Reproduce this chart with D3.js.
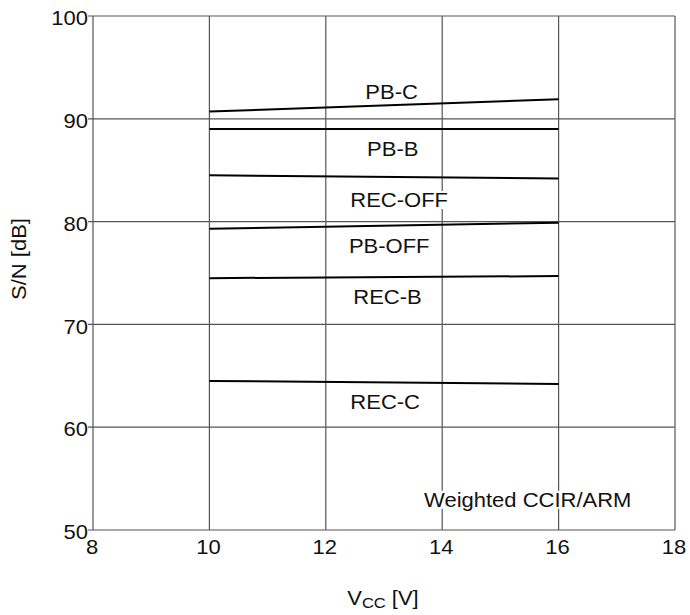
<!DOCTYPE html>
<html>
<head>
<meta charset="utf-8">
<script src="https://cdn.jsdelivr.net/npm/d3@7"></script>
<style>
  body { margin: 0; background: #fff; }
</style>
</head>
<body>
<div id="chart"></div>
<script>
// data
var vcc = [10, 16];
var seriesNames = ['PB-C', 'PB-B', 'REC-OFF', 'PB-OFF', 'REC-B', 'REC-C'];
var pbC = [90.7, 91.9];
var pbB = [89.0, 89.0];
var recOff = [84.5, 84.2];
var pbOff = [79.3, 79.9];
var recB = [74.5, 74.7];
var recC = [64.5, 64.2];
var labelVcc = [13.13, 13.15, 13.26, 13.09, 13.06, 13.02];
var labelSN = [92.6, 87.1, 82.1, 77.6, 72.7, 62.5];
var xTicks = [8, 10, 12, 14, 16, 18];
var yTicks = [50, 60, 70, 80, 90, 100];
var note = 'Weighted CCIR/ARM';

var attrs = {
  svgWidth: 690,
  svgHeight: 615,
  plotLeft: 93,
  plotRight: 675,
  plotTop: 16,
  plotBottom: 530,
  font: '"Liberation Sans", Arial, Helvetica, sans-serif',
  fontSize: 20,
  stretch: 1.1,
  gridColor: '#555',
  lineColor: '#000'
};

var series = [pbC, pbB, recOff, pbOff, recB, recC].map(function (vals, i) {
  return { name: seriesNames[i], points: vals.map(function (v, j) { return [vcc[j], v]; }),
           lx: labelVcc[i], ly: labelSN[i] };
});

var x = d3.scaleLinear().domain([8, 18]).range([attrs.plotLeft, attrs.plotRight]);
var y = d3.scaleLinear().domain([50, 100]).range([attrs.plotBottom, attrs.plotTop]);

var svg = d3.select('#chart').append('svg')
  .attr('width', attrs.svgWidth)
  .attr('height', attrs.svgHeight)
  .attr('font-family', attrs.font)
  .attr('font-size', attrs.fontSize);

// stretched text helper (reference glyphs are a bit wider than Arial)
function label(g, tx, ty, str, anchor) {
  return g.append('text')
    .attr('transform', 'translate(' + tx + ',' + ty + ') scale(' + attrs.stretch + ',1)')
    .attr('text-anchor', anchor || 'middle')
    .attr('dy', '0.36em')
    .attr('fill', '#111')
    .text(str);
}

// grid
var grid = svg.append('g');
grid.selectAll('.vgrid').data(xTicks).enter().append('line')
  .attr('x1', d => x(d)).attr('x2', d => x(d))
  .attr('y1', attrs.plotTop).attr('y2', attrs.plotBottom)
  .attr('stroke', attrs.gridColor).attr('stroke-width', 1.2);
grid.selectAll('.hgrid').data(yTicks).enter().append('line')
  .attr('x1', attrs.plotLeft - 5).attr('x2', attrs.plotRight)
  .attr('y1', d => y(d)).attr('y2', d => y(d))
  .attr('stroke', attrs.gridColor).attr('stroke-width', 1.2);

// tick labels
var tl = svg.append('g');
xTicks.forEach(function (t) { label(tl, x(t) - 1, 547, t); });
yTicks.forEach(function (t) { label(tl, 88, y(t) + 2, t, 'end'); });

// curves
var line = d3.line().x(d => x(d[0])).y(d => y(d[1]));
svg.append('g').selectAll('path').data(series).enter().append('path')
  .attr('d', d => line(d.points))
  .attr('fill', 'none')
  .attr('stroke', attrs.lineColor)
  .attr('stroke-width', 2);

// curve labels with white backing
var lg = svg.append('g');
series.concat([{ name: note, lx: 15.47, ly: 52.94 }]).forEach(function (s) {
  var t = label(lg, x(s.lx), y(s.ly), s.name);
  var b = t.node().getBBox();
  var w = b.width * attrs.stretch;
  lg.insert('rect', function () { return t.node(); })
    .attr('x', x(s.lx) - w / 2 - 2).attr('y', y(s.ly) - 9)
    .attr('width', w + 4).attr('height', 18)
    .attr('fill', '#fff');
});

// axis titles
var yt = svg.append('text')
  .attr('transform', 'translate(26,259) rotate(-90) scale(' + attrs.stretch + ',1)')
  .attr('text-anchor', 'middle')
  .attr('fill', '#111')
  .text('S/N [dB]');

var xt = svg.append('text')
  .attr('transform', 'translate(383,605) scale(' + attrs.stretch + ',1)')
  .attr('text-anchor', 'middle')
  .attr('fill', '#111');
xt.append('tspan').text('V');
xt.append('tspan').attr('font-size', 15).attr('dy', 3).text('CC');
xt.append('tspan').attr('dy', -3).text(' [V]');
</script>
</body>
</html>
